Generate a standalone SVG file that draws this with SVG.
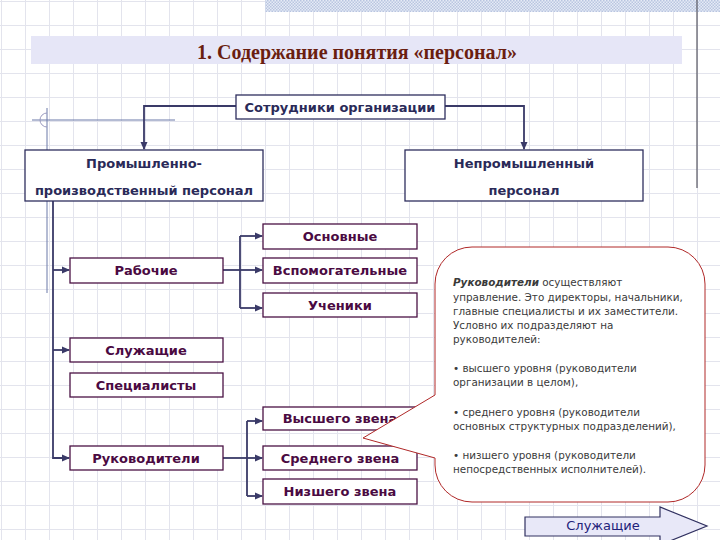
<svg xmlns="http://www.w3.org/2000/svg" width="720" height="540" viewBox="0 0 720 540">
<defs>
<pattern id="grid" width="24" height="24" patternUnits="userSpaceOnUse" x="1" y="1">
<path d="M0 0.5 H24 M0.5 0 V24" stroke="#e3e4ed" stroke-width="1" fill="none"/>
</pattern>
<pattern id="hatch" width="3" height="3" patternUnits="userSpaceOnUse">
<rect width="3" height="3" fill="#e6ebf6"/>
<rect width="1.5" height="1.5" fill="#b9c5e0"/>
<rect x="1.5" y="1.5" width="1.5" height="1.5" fill="#b9c5e0"/>
</pattern>
<marker id="arr" markerUnits="userSpaceOnUse" markerWidth="8" markerHeight="8" refX="7" refY="4" orient="auto">
<path d="M0,0.5 L8,4 L0,7.5 Z" fill="#3a3a68"/>
</marker>
<style>
.top rect{fill:#ffffff;stroke:#2e2e5e;stroke-width:1.3}
.top text{font-family:"DejaVu Sans",Verdana,sans-serif;font-weight:bold;font-size:13px;fill:#2a2a58;text-anchor:middle}
.inner rect{fill:#ffffff;stroke:#4a1244;stroke-width:1.3}
.inner text{font-family:"DejaVu Sans",Verdana,sans-serif;font-weight:bold;font-size:13px;fill:#4a0a42;text-anchor:middle}
.conn path{fill:none;stroke:#3a3a68;stroke-width:1.8}
.note text{font-family:"DejaVu Sans",Verdana,sans-serif;font-size:10.4px;fill:#3a3a3a}
</style>
</defs>
<rect width="720" height="540" fill="#ffffff"/>
<rect width="720" height="540" fill="url(#grid)"/>
<rect x="265" y="0" width="455" height="12" fill="url(#hatch)"/>
<line x1="697" y1="0" x2="697" y2="188" stroke="#555560" stroke-width="1.2"/>

<g id="title">
<rect x="31" y="36" width="651" height="28" fill="#e6e6f7"/>
<text x="357" y="59" font-family="'Liberation Serif','Times New Roman',serif" font-weight="bold" font-size="20" fill="#6a1e10" text-anchor="middle">1. Содержание понятия «персонал»</text>
</g>

<g id="decor" fill="none" stroke="#6a78a8" stroke-width="1">
<path d="M32,120 H175"/>
<path d="M47,108 V293"/>
<path d="M47,113 A7,7 0 1 0 47,127" stroke="#9a9ac0"/>
</g>

<g class="conn" id="connectors">
<path d="M236,106 H144 V149" marker-end="url(#arr)"/>
<path d="M445,106 H524 V149" marker-end="url(#arr)"/>
<path d="M53,201 V458 H69" marker-end="url(#arr)"/>
<path d="M53,270 H69" marker-end="url(#arr)"/>
<path d="M53,350 H69" marker-end="url(#arr)"/>
<path d="M223,270 H240"/>
<path d="M240,236 V308"/>
<path d="M240,236 H262" marker-end="url(#arr)"/>
<path d="M240,270 H262" marker-end="url(#arr)"/>
<path d="M240,308 H262" marker-end="url(#arr)"/>
<path d="M223,458 H247"/>
<path d="M247,421 V496"/>
<path d="M247,421 H262" marker-end="url(#arr)"/>
<path d="M247,458 H262" marker-end="url(#arr)"/>
<path d="M247,496 H262" marker-end="url(#arr)"/>
</g>

<g id="sotrudniki" class="top">
<rect x="236" y="95" width="209" height="24"/>
<text x="340" y="112">Сотрудники организации</text>
</g>
<g id="prom" class="top">
<rect x="25" y="150" width="238" height="51"/>
<text x="144" y="168">Промышленно-</text>
<text x="144" y="195">производственный персонал</text>
</g>
<g id="neprom" class="top">
<rect x="405" y="150" width="238" height="51"/>
<text x="524" y="168">Непромышленный</text>
<text x="524" y="195">персонал</text>
</g>

<g id="rabochie" class="inner">
<rect x="70" y="258" width="153" height="25"/>
<text x="146" y="275">Рабочие</text>
</g>
<g id="osnovnye" class="inner">
<rect x="263" y="224" width="154" height="25"/>
<text x="340" y="241">Основные</text>
</g>
<g id="vspom" class="inner">
<rect x="263" y="258" width="154" height="25"/>
<text x="340" y="275">Вспомогательные</text>
</g>
<g id="ucheniki" class="inner">
<rect x="263" y="293" width="154" height="24"/>
<text x="340" y="310">Ученики</text>
</g>
<g id="sluzhashchie" class="inner">
<rect x="70" y="338" width="153" height="24"/>
<text x="146" y="355">Служащие</text>
</g>
<g id="spetsialisty" class="inner">
<rect x="70" y="373" width="153" height="24"/>
<text x="146" y="390">Специалисты</text>
</g>
<g id="rukovoditeli" class="inner">
<rect x="70" y="446" width="153" height="24"/>
<text x="146" y="463">Руководители</text>
</g>
<g id="vysshego" class="inner">
<rect x="263" y="407" width="154" height="23"/>
<text x="340" y="423">Высшего звена</text>
</g>
<g id="srednego" class="inner">
<rect x="263" y="446" width="154" height="24"/>
<text x="340" y="463">Среднего звена</text>
</g>
<g id="nizshego" class="inner">
<rect x="263" y="479" width="154" height="25"/>
<text x="340" y="496">Низшего звена</text>
</g>

<g id="callout" class="note">
<path d="M472,247 H668 A37,37 0 0 1 705,284 V465 A37,37 0 0 1 668,502 H472 A37,37 0 0 1 435,465 V458 L363,438 L435,395 V284 A37,37 0 0 1 472,247 Z" fill="#ffffff" stroke="#b02828" stroke-width="1"/>
<text x="453" y="286"><tspan font-weight="bold" font-style="italic">Руководители</tspan> осуществляют</text>
<text x="453" y="301">управление. Это директоры, начальники,</text>
<text x="453" y="315">главные специалисты и их заместители.</text>
<text x="453" y="329">Условно их подразделяют на</text>
<text x="453" y="343">руководителей:</text>
<text x="453" y="372">• высшего уровня (руководители</text>
<text x="453" y="386">организации в целом),</text>
<text x="453" y="416">• среднего уровня (руководители</text>
<text x="453" y="430">основных структурных подразделений),</text>
<text x="453" y="459">• низшего уровня (руководители</text>
<text x="453" y="473">непосредственных исполнителей).</text>
</g>

<g id="nav-arrow">
<path d="M525,517 H660 V507 L707,526 L660,545 V536 H525 Z" fill="#e8e8f8" stroke="#303060" stroke-width="1.2"/>
<text x="603" y="530" font-family="'DejaVu Sans',Verdana,sans-serif" font-size="13" fill="#22227a" text-anchor="middle">Служащие</text>
</g>
</svg>
